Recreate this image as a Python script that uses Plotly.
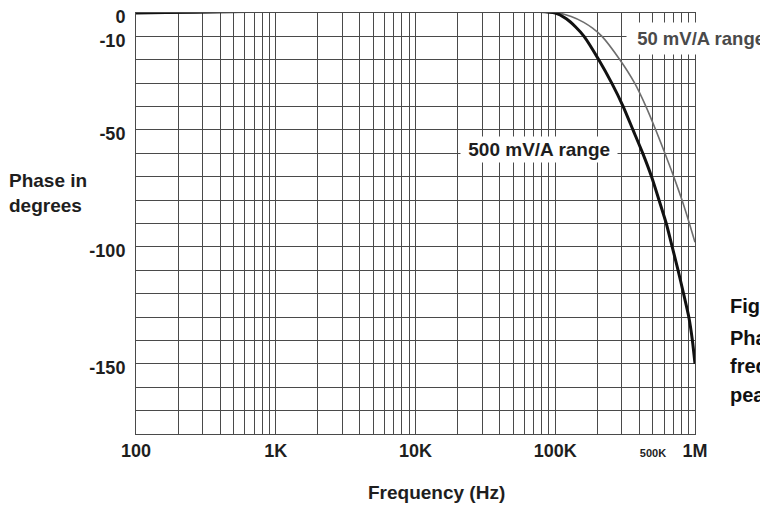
import plotly.graph_objects as go

# ---- data ----
freq_500 = [100, 100000, 120000, 140000, 160700, 204800, 253700, 306400, 360000, 423000,
            489000, 553000, 623000, 687000, 757000, 828000, 903000, 958000, 1000000]
phase_500 = [0, 0, -2.5, -6, -10, -20, -30, -40, -50, -60,
             -70, -80, -90, -100, -110, -120, -130, -140, -150]

freq_50 = [100, 105000, 130000, 160000, 185000, 216000, 290000, 370000, 446000, 524000,
           609000, 705000, 807000, 912000, 1000000]
phase_50 = [0, 0, -1.5, -4, -6.5, -10, -20, -30, -40, -50,
            -60, -70, -80, -90, -98]

x_grid_vals = [m * d for d in [100, 1000, 10000, 100000] for m in range(1, 10)] + [1000000]
x_label_vals = [100, 1000, 10000, 100000, 500000, 1000000]
x_label_text = ["100", "1K", "10K", "100K", "<span style='font-size:11px'>500K</span>", "1M"]

y_grid_vals = list(range(-180, 1, 10))
y_label_vals = [0, -10, -50, -100, -150]
y_label_text = ["0", "-10", "-50", "-100", "-150"]

side_lines = ["Fig", "Pha", "freq", "pea"]
side_y = [0.3048, 0.228, 0.1615, 0.0933]

FONT = "Liberation Sans, Arial, sans-serif"

x_ticktext = [x_label_text[x_label_vals.index(v)] if v in x_label_vals else "" for v in x_grid_vals]
y_ticktext = [y_label_text[y_label_vals.index(v)] if v in y_label_vals else "" for v in y_grid_vals]

fig = go.Figure()
fig.add_trace(go.Scatter(x=freq_50, y=phase_50, mode="lines",
                         line=dict(color="#6e6e6e", width=1.6, shape="spline", smoothing=0.6),
                         cliponaxis=False, hoverinfo="skip"))
fig.add_trace(go.Scatter(x=freq_500, y=phase_500, mode="lines",
                         line=dict(color="#111111", width=3, shape="spline", smoothing=0.6),
                         cliponaxis=False, hoverinfo="skip"))

# page body has an 8px margin, so the figure is drawn 8px smaller and offset
fig.update_layout(
    width=760, height=501,
    margin=dict(l=128, r=73, t=5, b=75, autoexpand=False),
    paper_bgcolor="white", plot_bgcolor="white",
    showlegend=False,
    font=dict(family=FONT, size=18, color="#1e1e1e"),
)
fig.update_xaxes(type="log", range=[2, 6], tickvals=x_grid_vals, ticktext=x_ticktext, ticks="",
                 showgrid=True, gridcolor="#4a4a4a", gridwidth=1, zeroline=False, automargin=False,
                 showline=True, linecolor="#4a4a4a", linewidth=1, mirror=True,
                 ticklabeloverflow="allow",
                 tickfont=dict(family=FONT, size=18, color="#1e1e1e", weight="bold"), tickangle=0)
fig.update_yaxes(range=[-180, 0], tickvals=y_grid_vals, ticktext=y_ticktext, ticks="",
                 showgrid=True, gridcolor="#4a4a4a", gridwidth=1, zeroline=False, automargin=False,
                 showline=True, linecolor="#4a4a4a", linewidth=1, mirror=True,
                 ticklabelstandoff=6, ticklabelshift=4, ticklabeloverflow="allow",
                 tickfont=dict(family=FONT, size=18, color="#1e1e1e", weight="bold"))

annots = [
    dict(text="Phase in<br>degrees", x=-0.2308, y=0.572, xanchor="left", yanchor="middle", align="left",
         font=dict(size=19, weight="bold")),
    dict(text="Frequency (Hz)", x=0.538, y=-0.140, xanchor="center", yanchor="middle",
         font=dict(size=19, weight="bold")),
    dict(text=" 500 mV/A range ", x=0.721, y=0.6746, xanchor="center", yanchor="middle",
         font=dict(size=19, weight="bold", color="#1e1e1e"), bgcolor="white", borderpad=2),
    dict(text=" 50 mV/A range", x=0.8766, y=0.9406, xanchor="left", yanchor="middle",
         font=dict(size=18.5, weight="bold", color="#4a4a4a"), bgcolor="white", borderpad=5),
]
for t, yy in zip(side_lines, side_y):
    annots.append(dict(text=t, x=1.0590, y=yy, xanchor="left", yanchor="middle", align="left",
                       font=dict(size=20, weight="bold", color="#111111")))
for a in annots:
    a.setdefault("showarrow", False)
    fig.add_annotation(xref="paper", yref="paper", **a)

fig.write_html("out.html")
